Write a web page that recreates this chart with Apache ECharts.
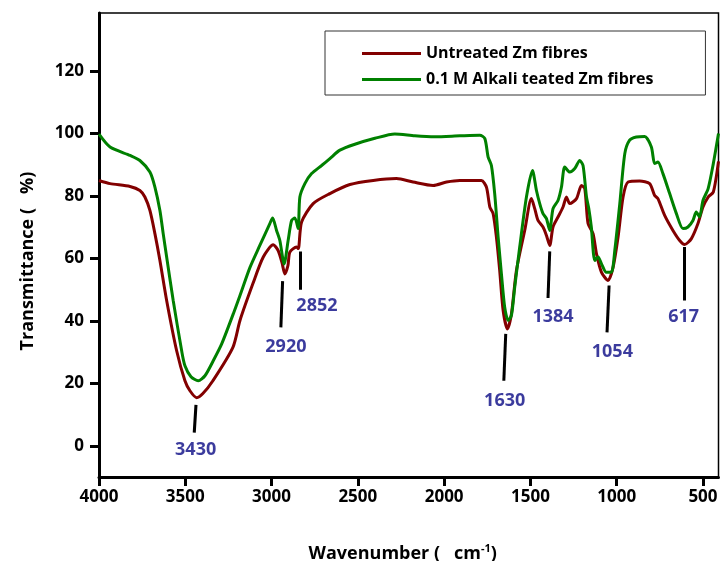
<!DOCTYPE html>
<html>
<head>
<meta charset="utf-8">
<script src="https://cdn.jsdelivr.net/npm/echarts@6/dist/echarts.min.js"></script>
<style>html,body{margin:0;padding:0;background:#fff}#c{width:720px;height:561px}</style>
</head>
<body>
<div id="c"></div>
<script>
// Wavenumber (cm-1), Transmittance (%)
var untreated = [
[4000,84.9],[3936,83.9],[3820,83.0],[3763,81.7],[3734,79.6],[3705,75.3],[3676,67.9],[3647,59.3],
[3608,46.5],[3550,30.4],[3502,20.8],[3473,17.6],[3434,15.4],[3398,16.7],[3340,20.8],[3224,31.5],
[3183,40.1],[3108,51.9],[3048,60.4],[2990,64.3],[2962,62.5],[2940,58.7],[2923,55.0],[2905,57.7],
[2894,62.0],[2855,63.6],[2845,63.1],[2826,71.6],[2759,77.5],[2662,80.7],[2546,83.6],[2411,84.9],
[2276,85.5],[2180,84.4],[2064,83.3],[1986,84.4],[1909,84.9],[1784,84.9],[1755,82.8],[1735,76.4],
[1716,74.3],[1697,66.8],[1678,56.1],[1658,43.3],[1633,37.4],[1610,42.2],[1581,56.1],[1533,68.9],
[1494,79.1],[1475,75.9],[1456,72.1],[1427,70.0],[1407,67.3],[1388,64.1],[1369,70.0],[1340,73.2],
[1311,76.4],[1291,79.6],[1272,77.5],[1233,79.1],[1204,83.3],[1185,82.3],[1166,71.1],[1137,67.9],
[1117,61.4],[1088,55.5],[1050,52.9],[1021,57.1],[992,66.8],[963,79.6],[934,84.4],[867,84.7],
[809,83.9],[780,80.1],[761,79.1],[722,73.7],[674,68.9],[635,65.7],[606,64.4],[567,66.3],
[529,71.1],[500,76.4],[470,79.6],[440,81.2],[410,91.0]
];
var alkaliTreated = [
[4000,99.7],[3936,95.6],[3820,92.9],[3763,91.3],[3705,87.6],[3676,82.8],[3647,75.3],[3628,67.9],
[3608,60.4],[3570,46.5],[3521,30.4],[3502,25.6],[3467,22.1],[3425,20.8],[3386,22.4],[3338,27.2],
[3289,32.6],[3222,42.2],[3183,48.1],[3125,57.1],[3068,64.1],[3010,71.1],[2994,72.9],[2971,68.9],
[2952,65.7],[2927,58.2],[2904,65.7],[2884,72.1],[2865,72.9],[2846,69.5],[2836,79.6],[2807,83.9],
[2768,87.1],[2710,89.7],[2662,91.9],[2604,94.6],[2517,96.5],[2401,98.4],[2286,99.8],[2170,99.2],
[2054,98.9],[1909,99.2],[1793,99.4],[1764,98.3],[1745,92.4],[1726,89.7],[1707,80.7],[1687,66.8],
[1668,55.0],[1649,44.3],[1629,40.1],[1610,41.7],[1591,50.7],[1562,63.6],[1523,79.6],[1488,88.1],
[1465,81.7],[1446,77.5],[1427,74.3],[1407,72.7],[1388,68.9],[1369,75.9],[1340,78.5],[1320,82.8],
[1301,89.2],[1272,87.6],[1243,88.7],[1214,91.3],[1195,89.7],[1175,79.6],[1162,76.0],[1147,70.0],
[1127,59.3],[1108,60.4],[1088,58.2],[1060,55.5],[1031,55.5],[1011,62.5],[982,77.5],[953,93.5],
[925,97.8],[886,98.8],[838,99.0],[799,95.6],[780,90.3],[761,90.8],[732,87.1],[693,80.7],
[654,74.3],[616,69.5],[587,70.0],[558,72.1],[539,74.8],[520,73.2],[500,78.5],[470,82.3],
[440,90.3],[410,99.9]
];
var seriesNames = ['Untreated Zm fibres', '0.1 M Alkali teated Zm fibres'];
var xTicks = [500,1000,1500,2000,2500,3000,3500,4000];
var yTicks = [0,20,40,60,80,100,120];
// peak labels: [label, line top x, line top y, line bottom x, line bottom y, text x, text y]
var peakLabels = [
['3430',3438,13.1,3448,4.2,3440,-1.3],
['2920',2936,52.7,2946,37.9,2917,31.7],
['2852',2834,62.2,2836,49.9,2737,44.9],
['1630',1643,35.8,1654,20.8,1649,14.4],
['1384',1388,62.2,1398,47.3,1369,41.1],
['1054',1044,51.3,1056,36.3,1025,29.9],
['617',606,63.6,606,46.5,612,41.3]
];

var FONT = '"Open Sans", "DejaVu Sans", sans-serif';
var chart = echarts.init(document.getElementById('c'), null, {renderer:'canvas'});
chart.setOption({
  animation:false,
  backgroundColor:'#fff',
  textStyle:{fontFamily:FONT},
  grid:{left:99, right:1.5, top:13, bottom:84, show:true, borderColor:'#000', borderWidth:1.5,
        backgroundColor:'transparent', containLabel:false, outerBoundsMode:'none'},
  legend:{
    data:seriesNames, left:325, top:31, orient:'vertical',
    icon:'rect', itemWidth:59, itemHeight:3,
    padding:[13,52,6,37], itemGap:7,
    borderColor:'#333', borderWidth:1,
    textStyle:{fontFamily:FONT, fontWeight:'bold', fontSize:16, color:'#000', lineHeight:19},
    selectedMode:false
  },
  xAxis:{
    type:'value', inverse:true, min:410, max:4000,
    axisLine:{show:true, onZero:false, lineStyle:{color:'#000', width:3}},
    axisTick:{show:true, length:9, lineStyle:{color:'#000', width:3}, customValues:xTicks},
    axisLabel:{fontFamily:FONT, fontWeight:'bold', fontSize:17, color:'#000', margin:12, customValues:xTicks,
               formatter:function(v){return String(v);}},
    splitLine:{show:false},
    name:'{a|Wavenumber (   cm}{s|-1}{a|)}', nameLocation:'middle', nameGap:66,
    nameTextStyle:{padding:[0,12,0,0], rich:{a:{fontFamily:FONT, fontWeight:'bold', fontSize:18, color:'#000'},
                        s:{fontFamily:FONT, fontWeight:'bold', fontSize:11, color:'#000', verticalAlign:'top', padding:[0,0,10,0]}}}
  },
  yAxis:{
    type:'value', min:-10, max:138.5,
    axisLine:{show:true, onZero:false, lineStyle:{color:'#000', width:3}},
    axisTick:{show:true, length:9, lineStyle:{color:'#000', width:3}, customValues:yTicks},
    axisLabel:{fontFamily:FONT, fontWeight:'bold', fontSize:17, color:'#000', margin:15, customValues:yTicks,
               formatter:function(v){return String(v);}},
    splitLine:{show:false},
    name:'Transmittance (   %)', nameLocation:'middle', nameGap:62, nameRotate:90,
    nameTextStyle:{fontFamily:FONT, fontWeight:'bold', fontSize:18, color:'#000', padding:[0,32,0,0]}
  },
  series:[
    {name:seriesNames[0], type:'line', data:untreated, showSymbol:false, symbol:'none', smooth:0.25,
     lineStyle:{color:'#820000', width:3}, itemStyle:{color:'#820000'}, z:3},
    {name:seriesNames[1], type:'line', data:alkaliTreated, showSymbol:false, symbol:'none', smooth:0.25,
     lineStyle:{color:'#008000', width:3}, itemStyle:{color:'#008000'}, z:4},
    {name:'peakLines', type:'lines', coordinateSystem:'cartesian2d', z:5,
     lineStyle:{color:'#000', width:3, opacity:1},
     data:peakLabels.map(function(p){return {coords:[[p[1],p[2]],[p[3],p[4]]]};})},
    {name:'peakText', type:'scatter', symbolSize:0, z:6, silent:true,
     data:peakLabels.map(function(p){return {value:[p[5],p[6]], name:p[0]};}),
     label:{show:true, position:'inside', formatter:'{b}', fontFamily:FONT, fontWeight:'bold', fontSize:18, color:'#0a0a85'}}
  ]
});
</script>
</body>
</html>
